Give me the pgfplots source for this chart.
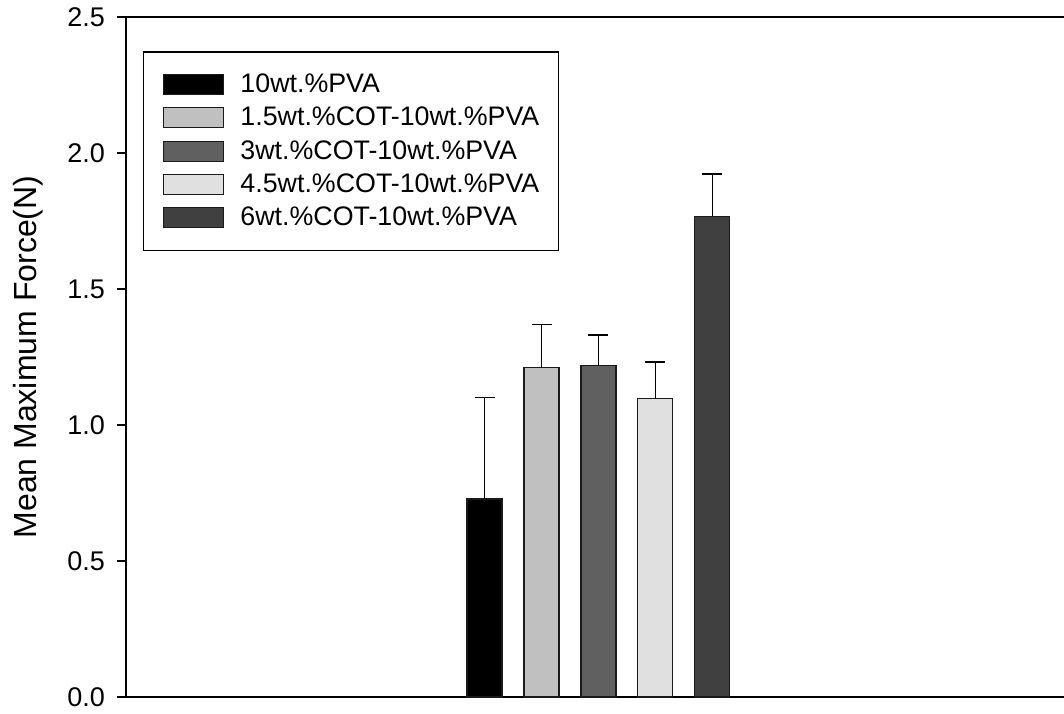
\documentclass[border=0pt]{standalone}
\usepackage{fontspec}
\setmainfont{Liberation Sans}
\usepackage{pgfplots}
\pgfplotsset{compat=1.18}
\definecolor{cA}{HTML}{000000}
\definecolor{cB}{HTML}{C0C0C0}
\definecolor{cC}{HTML}{606060}
\definecolor{cD}{HTML}{E0E0E0}
\definecolor{cE}{HTML}{404040}
\definecolor{edge}{HTML}{1A1A1A}
\begin{document}
\begin{tikzpicture}
\begin{axis}[
  at={(0,0)}, anchor=south west,
  scale only axis, width=469pt, height=340pt,
  xmin=-5.30, xmax=11.18, ymin=0, ymax=2.5,
  axis x line=box, axis y line=left,
  axis line style={-, line width=0.8pt, black},
  xtick=\empty,
  ytick={0,0.5,1.0,1.5,2.0,2.5},
  tick align=outside, major tick length=4.5pt,
  tick style={line width=0.7pt, black},
  /pgf/number format/assume math mode=true,
  yticklabel style={font=\fontsize{13.5}{16}\selectfont, xshift=-2.5pt, /pgf/number format/.cd, fixed, fixed zerofill, precision=1},
  ylabel={Mean Maximum Force(N)},
  every axis y label/.style={at={(axis description cs:-0.1045,0.5)}, rotate=90, anchor=center, font=\fontsize{16}{19}\selectfont},
  legend style={at={(axis description cs:0.018,0.95)}, anchor=north west,
    draw=black, line width=0.8pt, inner xsep=9.5pt, inner ysep=8pt,
    font=\fontsize{13.4}{16}\selectfont, row sep=0pt,
    nodes={inner xsep=0pt, inner ysep=0pt, minimum height=16.67pt}},
  legend cell align=left,
  legend image code/.code={\draw[#1, line width=0.6pt] (0pt,-5pt) rectangle (30pt,5pt);},
  /tikz/every odd column/.append style={column sep=8.3pt},
  error bars/y dir=plus, error bars/y explicit,
  error bars/error mark options={rotate=90, mark size=5pt, line width=0.7pt, black},
  error bars/error bar style={line width=0.7pt, black},
]
\addplot[ybar, bar width=17.5pt, bar shift=0pt, fill=cA, draw=edge, line width=0.6pt] coordinates {(1,0.728) +- (0,0.374)};
\addplot[ybar, bar width=17.5pt, bar shift=0pt, fill=cB, draw=edge, line width=0.6pt] coordinates {(2,1.212) +- (0,0.157)};
\addplot[ybar, bar width=17.5pt, bar shift=0pt, fill=cC, draw=edge, line width=0.6pt] coordinates {(3,1.218) +- (0,0.113)};
\addplot[ybar, bar width=17.5pt, bar shift=0pt, fill=cD, draw=edge, line width=0.6pt] coordinates {(4,1.097) +- (0,0.135)};
\addplot[ybar, bar width=17.5pt, bar shift=0pt, fill=cE, draw=edge, line width=0.6pt] coordinates {(5,1.768) +- (0,0.155)};
\legend{10wt.\%PVA, 1.5wt.\%COT-10wt.\%PVA, 3wt.\%COT-10wt.\%PVA, 4.5wt.\%COT-10wt.\%PVA, 6wt.\%COT-10wt.\%PVA}
\end{axis}
\pgfresetboundingbox
\useasboundingbox (-63pt,-8pt) rectangle (469pt,348.5pt);
\end{tikzpicture}
\end{document}
